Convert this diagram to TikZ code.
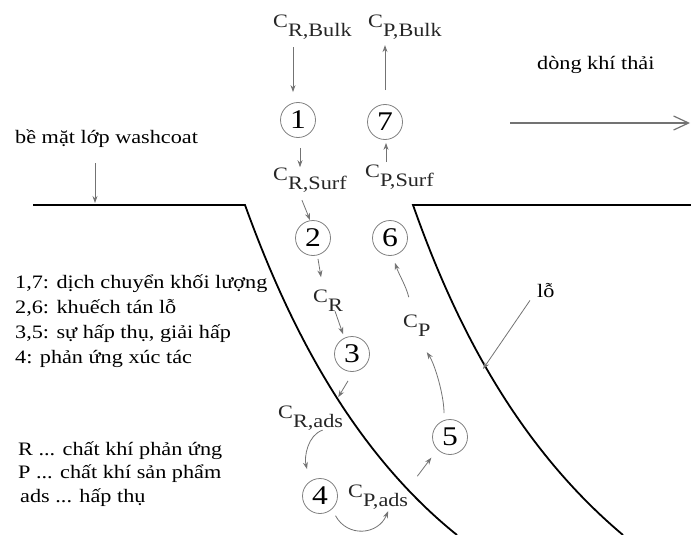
\documentclass[tikz,border=0pt]{standalone}
\usepackage{fontspec}
\setmainfont[FakeStretch=1.17]{Liberation Serif}
\usetikzlibrary{arrows.meta,calc}
\newcommand\Cl[1]{C\raisebox{-9pt}{#1}}
\begin{document}
\begin{tikzpicture}[x=1pt,y=-1pt,
  txt/.style={anchor=base west, inner sep=0pt, font=\fontsize{19}{19}\selectfont, text=black},
  clab/.style={anchor=base west, inner sep=0pt, font=\fontsize{19}{19}\selectfont, text=black!85},
  num/.style={circle, draw=black!50, line width=0.8pt, minimum size=35pt, inner sep=0pt, font=\fontsize{27}{27}\selectfont},
  arr/.style={draw=black!55, line width=0.8pt, -{Stealth[length=7pt,width=5pt]}},
  flowarr/.style={draw=black!55, line width=1.2pt, -{Straight Barb[length=15pt,width=14pt]}},
  wall/.style={line width=1.8pt, black},
]
\useasboundingbox (0,0) rectangle (691,535);

% pore walls
\draw[wall] (33,205) -- (245,205) .. controls (283,310) and (345,445) .. (457,535);
\draw[wall] (691,205) -- (413,205) .. controls (450,310) and (510,440) .. (623,535);

% labels and steps
\node[clab] (cRB) at (273,28) {\Cl{R,Bulk}};
\node[clab] (cPB) at (368,28) {\Cl{P,Bulk}};
\node[num] (n1) at (298,120) {1};
\node[num] (n7) at (385,122) {7};
\node[clab] (cRS) at (273,180) {\Cl{R,Surf}};
\node[clab] (cPS) at (365,177) {\Cl{P,Surf}};
\node[num] (n2) at (313,238) {2};
\node[num] (n6) at (390,238) {6};
\node[clab] (cR) at (313,302) {\Cl{R}};
\node[clab] (cP) at (403,327) {\Cl{P}};
\node[num] (n3) at (352,354) {3};
\node[clab] (cRa) at (278,418) {\Cl{R,ads}};
\node[num] (n4) at (320,496) {4};
\node[clab] (cPa) at (348,497) {\Cl{P,ads}};
\node[num] (n5) at (450,437) {5};

% connectors
\draw[arr] ($(cRB.south -| n1.north)+(-5,7)$) -- ($(n1.north)+(-5,-10)$);
\draw[arr] ($(n1.south)+(2,10)$) -- ($(n1.south |- cRS.north)+(2,0)$);
\draw[arr] ($(n7.north)+(0,-14)$) -- ($(n7.north |- cPB.south)+(0,5)$);
\draw[arr] ($(cPS.north -| n7.south)+(1,-2)$) -- ($(n7.south)+(1,3)$);
\draw[arr] ($(cRS.south)+(-8,8)$) -- ($(n2.north)+(-3,0)$);
\draw[arr] ($(n2.south)+(5,3)$) -- ($(cR.north)+(-7,-12)$);
\draw[arr] ($(cR.south)+(7,0)$) -- ($(n3.north)+(-9,-2)$);
\draw[arr] ($(n3.south)+(-4,9)$) -- ($(cRa.north east)+(-5,-8)$);
\draw[arr] ($(cRa.south)+(12,0)$) .. controls +(-15,5) and +(-3,-12) .. ($(n4.north)+(-13,-9)$);
\draw[arr] ($(n4.-50)+(4,6)$) .. controls +(12,22) and +(-10,24) .. ($(cPa.south)+(10,2)$);
\draw[arr] ($(cPa.north east)+(9,-8)$) -- ($(n5.south west)+(-6,8)$);
\draw[arr] ($(n5.north)+(-6,-6)$) .. controls +(0,-18) and +(8,12) .. ($(cP.south)+(10,16)$);
\draw[arr] ($(cP.north)+(-8,-17)$) .. controls +(-3,-12) and +(4,12) .. ($(n6.south)+(5,7)$);

% side texts
\node[txt] (ws) at (15,143) {bề mặt lớp washcoat};
\coordinate (wsT) at (95,203);
\draw[arr] ($(ws.south -| wsT)+(0,16)$) -- (wsT);

\node[txt] (flow) at (537,70) {dòng khí thải};
\coordinate (f1) at (510,123);
\coordinate (f2) at (690,123);
\draw[flowarr] (f1) -- (f2);

\node[txt] (lo) at (537,297) {lỗ};
\coordinate (loT) at (483,369);
\draw[arr] ($(lo.south west)+(-7,3)$) -- (loT);

\node[txt] (l1) at (15,288) {1,7: dịch chuyển khối lượng};
\node[txt] (l2) at (15,313) {2,6: khuếch tán lỗ};
\node[txt] (l3) at (15,338) {3,5: sự hấp thụ, giải hấp};
\node[txt] (l4) at (15,363) {4: phản ứng xúc tác};

\node[txt] (r1) at (18,455) {R ... chất khí phản ứng};
\node[txt] (r2) at (18,478) {P ... chất khí sản phẩm};
\node[txt] (r3) at (20,502) {ads ... hấp thụ};
\end{tikzpicture}
\end{document}
